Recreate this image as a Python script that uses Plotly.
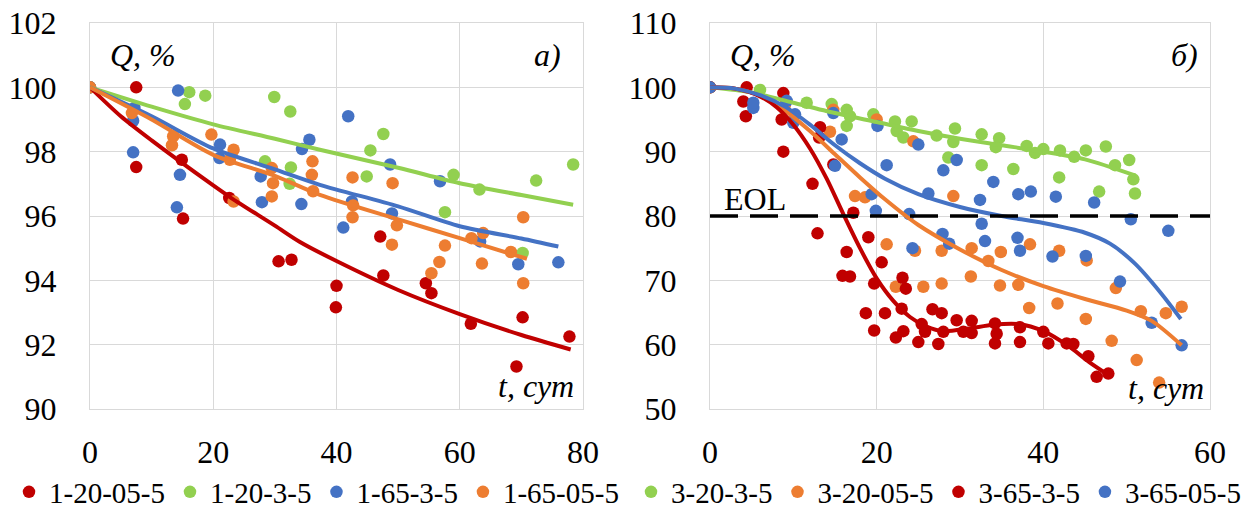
import plotly.graph_objects as go

# ---------------- data: left panel (a) ----------------
t_1_20_05_5 = [0, 7.5, 7.5, 14.9, 15.1, 22.6, 30.6, 32.7, 39.9, 40.0, 47.1, 47.6, 54.5, 55.4, 61.8, 69.2, 70.2, 77.8]
q_1_20_05_5 = [100, 100.0, 97.52, 97.75, 95.92, 96.56, 94.59, 94.64, 93.16, 93.83, 95.36, 94.15, 93.91, 93.6, 92.65, 91.32, 92.85, 92.25]

t_1_20_3_5 = [0, 15.4, 16.1, 18.7, 28.4, 29.9, 32.5, 32.6, 32.4, 44.9, 45.5, 47.6, 57.6, 59.0, 63.2, 70.2, 72.4, 78.4]
q_1_20_3_5 = [100, 99.48, 99.85, 99.74, 97.70, 99.70, 99.25, 97.51, 97.0, 97.23, 98.04, 98.55, 96.12, 97.28, 96.82, 94.85, 97.1, 97.6]

t_1_65_3_5 = [0, 7.0, 7.0, 7.2, 14.1, 14.3, 14.6, 21.0, 21.1, 27.7, 27.9, 34.3, 34.4, 35.6, 41.1, 41.9, 42.5, 48.7, 49.0, 56.8, 63.3, 69.5, 76.0]
q_1_65_3_5 = [100, 97.98, 98.96, 99.36, 96.27, 99.9, 97.28, 97.8, 98.22, 97.23, 96.43, 96.37, 98.08, 98.37, 95.64, 99.1, 96.45, 97.6, 96.08, 97.08, 95.21, 94.5, 94.56]

t_1_65_05_5 = [0, 6.8, 13.3, 13.5, 19.7, 22.7, 23.3, 23.3, 29.5, 29.7, 29.5, 36.0, 36.1, 36.2, 42.6, 42.6, 42.7, 49.0, 49.1, 49.8, 55.4, 56.7, 57.6, 61.9, 63.6, 63.8, 68.3, 70.3, 70.3]
q_1_65_05_5 = [100, 99.2, 98.2, 98.48, 98.53, 97.75, 98.06, 96.45, 97.49, 97.02, 96.61, 97.28, 97.7, 96.77, 97.2, 95.96, 96.33, 95.11, 97.02, 95.71, 94.22, 94.57, 95.08, 95.31, 94.52, 95.47, 94.88, 95.96, 93.91]

# trend lines
ft_1_20_05_5 = [0, 5, 10, 20, 23, 30, 34, 40, 50, 60, 70, 78]
fq_1_20_05_5 = [100, 99.1, 98.35, 96.95, 96.55, 95.7, 95.2, 94.6, 93.7, 92.95, 92.3, 91.85]
ft_1_20_3_5 = [0, 10, 20, 30, 37.3, 50, 60, 70, 78.4]
fq_1_20_3_5 = [100, 99.4, 98.85, 98.4, 98.06, 97.5, 97.02, 96.65, 96.35]
ft_1_65_3_5 = [0, 10, 20, 30, 37.3, 50, 60, 70, 76]
fq_1_65_3_5 = [100, 99.1, 98.1, 97.45, 96.97, 96.3, 95.68, 95.3, 95.05]
ft_1_65_05_5 = [0, 10, 20, 30, 37.3, 50.3, 60, 70.9]
fq_1_65_05_5 = [100, 99.0, 97.9, 97.25, 96.66, 95.88, 95.31, 94.67]

# ---------------- data: right panel (б) ----------------
t_3_20_3_5 = [0, 6.0, 11.6, 14.6, 16.4, 16.8, 16.4, 19.6, 22.2, 24.2, 22.4, 23.2, 27.2, 29.4, 29.2, 28.6, 32.6, 34.7, 34.3, 32.6, 36.4, 38.0, 39.0, 40.0, 42.0, 41.9, 43.7, 45.1, 46.7, 47.5, 48.6, 50.3, 50.8, 51.0]
q_3_20_3_5 = [100, 99.6, 97.6, 97.4, 96.5, 95.5, 94.0, 95.8, 94.7, 94.7, 93.2, 92.2, 92.5, 93.6, 91.5, 89.1, 92.7, 92.1, 90.7, 87.9, 87.3, 90.9, 89.8, 90.4, 90.2, 86.0, 89.2, 90.2, 83.8, 90.8, 87.9, 88.7, 85.7, 83.5]

t_3_20_05_5 = [0, 9.0, 14.4, 14.8, 17.4, 18.6, 20.0, 21.2, 22.3, 24.4, 24.6, 25.6, 27.8, 27.8, 29.2, 31.3, 31.4, 33.4, 34.8, 34.9, 37.0, 38.3, 38.4, 41.7, 41.9, 45.1, 45.2, 48.2, 48.7, 51.2, 51.7, 53.9, 54.7, 56.6]
q_3_20_05_5 = [100, 97.3, 93.1, 96.5, 83.1, 82.9, 95.0, 75.6, 69.0, 91.6, 74.6, 69.0, 74.6, 69.5, 83.1, 70.6, 75.0, 73.0, 69.2, 74.4, 69.3, 65.7, 75.6, 66.4, 74.6, 64.0, 73.1, 60.6, 68.8, 57.6, 65.2, 54.1, 64.9, 65.9]

t_3_65_3_5 = [0, 4.0, 4.3, 4.4, 8.6, 8.8, 8.8, 12.3, 12.9, 13.1, 13.2, 14.8, 15.9, 16.4, 16.8, 17.2, 18.7, 19.0, 19.7, 19.7, 20.6, 21.0, 22.3, 23.0, 23.1, 23.2, 23.5, 25.0, 25.4, 25.8, 26.7, 27.4, 27.8, 28.0, 29.6, 30.4, 31.4, 31.4, 34.2, 34.4, 34.2, 37.2, 37.2, 40.0, 40.6, 42.8, 43.6, 45.4, 46.4, 47.8]
q_3_65_3_5 = [100, 97.8, 95.5, 100.0, 95.0, 99.1, 90.0, 85.0, 77.3, 92.2, 93.8, 88.0, 70.7, 74.4, 70.6, 80.5, 64.9, 76.7, 69.5, 62.2, 72.8, 64.9, 61.1, 65.6, 70.4, 62.1, 68.7, 60.4, 63.2, 62.0, 65.5, 60.1, 64.9, 62.0, 63.8, 62.0, 63.7, 61.8, 63.3, 61.7, 60.2, 62.7, 60.4, 62.0, 60.2, 60.2, 60.1, 58.2, 55.0, 55.5]

t_3_65_05_5 = [0, 5.2, 5.2, 9.2, 10.0, 10.2, 14.8, 15.0, 15.8, 19.4, 19.9, 20.1, 21.2, 23.9, 24.3, 25.0, 26.2, 27.9, 28.0, 28.7, 29.6, 32.4, 32.6, 33.0, 34.0, 36.9, 37.0, 37.2, 38.5, 41.1, 41.5, 45.1, 46.1, 49.2, 50.5, 53.0, 55.0, 56.6]
q_3_65_05_5 = [100, 96.8, 97.6, 97.9, 94.5, 95.8, 96.0, 87.8, 91.9, 83.4, 80.8, 94.0, 87.9, 80.3, 75.0, 91.1, 83.5, 77.2, 87.1, 75.7, 88.7, 82.5, 78.8, 76.1, 85.3, 76.6, 83.4, 74.6, 83.8, 73.7, 83.0, 73.8, 82.1, 69.8, 79.5, 63.4, 77.7, 59.9]

ft_3_20_3_5 = [0, 5, 10, 15, 20, 25, 30, 35, 40, 45, 51]
fq_3_20_3_5 = [100, 99.2, 97.6, 96.0, 94.6, 93.2, 92.0, 91.0, 90.0, 88.8, 86.3]
ft_3_20_05_5 = [0, 3, 6, 9, 12, 15, 18, 21, 25, 30, 35, 40, 45, 50, 53, 56.6]
fq_3_20_05_5 = [100, 99.8, 98.7, 96.4, 93.2, 89.6, 86.0, 82.6, 78.6, 74.8, 71.6, 69.1, 67.1, 65.3, 63.7, 59.9]
ft_3_65_3_5 = [0, 3, 6, 8, 10, 12, 14, 16, 18, 20, 22, 24, 26, 28, 31, 34, 37, 40, 43, 45.5, 47.8]
fq_3_65_3_5 = [100, 99.8, 98.6, 96.9, 94.2, 90.5, 85.8, 80.3, 75.0, 70.3, 66.8, 64.3, 62.8, 62.1, 62.5, 63.1, 63.2, 62.1, 59.8, 57.3, 55.3]
ft_3_65_05_5 = [0, 3, 6, 9, 12, 15, 18, 21, 25, 30, 35, 40, 45, 48, 51, 54, 56.5]
fq_3_65_05_5 = [100, 99.8, 98.8, 97.0, 94.2, 91.0, 88.2, 85.8, 83.4, 81.4, 80.0, 78.9, 77.4, 75.7, 72.6, 68.2, 64.0]

EOL = 80

left_x_ticks = [0, 20, 40, 60, 80]
left_y_ticks = [90, 92, 94, 96, 98, 100, 102]
right_x_ticks = [0, 20, 40, 60]
right_y_ticks = [50, 60, 70, 80, 90, 100, 110]

RED, GREEN, BLUE, ORANGE = "#C00000", "#92D050", "#4472C4", "#ED7D31"
FONT = "Times New Roman, Liberation Serif, Tinos, DejaVu Serif, serif"
W, H = 1248, 508

left_series = [
    ("1-20-05-5", t_1_20_05_5, q_1_20_05_5, ft_1_20_05_5, fq_1_20_05_5, RED),
    ("1-20-3-5", t_1_20_3_5, q_1_20_3_5, ft_1_20_3_5, fq_1_20_3_5, GREEN),
    ("1-65-3-5", t_1_65_3_5, q_1_65_3_5, ft_1_65_3_5, fq_1_65_3_5, BLUE),
    ("1-65-05-5", t_1_65_05_5, q_1_65_05_5, ft_1_65_05_5, fq_1_65_05_5, ORANGE),
]
right_series = [
    ("3-20-3-5", t_3_20_3_5, q_3_20_3_5, ft_3_20_3_5, fq_3_20_3_5, GREEN),
    ("3-20-05-5", t_3_20_05_5, q_3_20_05_5, ft_3_20_05_5, fq_3_20_05_5, ORANGE),
    ("3-65-3-5", t_3_65_3_5, q_3_65_3_5, ft_3_65_3_5, fq_3_65_3_5, RED),
    ("3-65-05-5", t_3_65_05_5, q_3_65_05_5, ft_3_65_05_5, fq_3_65_05_5, BLUE),
]

fig = go.Figure()

for series, xa, ya, leg in [(left_series, "x", "y", "legend"), (right_series, "x2", "y2", "legend2")]:
    for name, t, q, ft, fq, col in series:
        fig.add_trace(go.Scatter(x=t, y=q, mode="markers", name=name, xaxis=xa, yaxis=ya,
                                 marker=dict(color=col, size=12.5), legend=leg, showlegend=True))
    for name, t, q, ft, fq, col in series:
        fig.add_trace(go.Scatter(x=ft, y=fq, mode="lines", xaxis=xa, yaxis=ya, showlegend=False,
                                 line=dict(color=col, width=4, shape="spline", smoothing=0.8),
                                 hoverinfo="skip"))


def px(x):
    return x / W


def py(y):
    return 1 - y / H


grid = "#d9d9d9"


def axis_common():
    return dict(showgrid=True, gridcolor=grid, gridwidth=1.3, showline=True, linecolor=grid,
                linewidth=1.3, mirror=True, zeroline=False, ticks="",
                tickfont=dict(family=FONT, size=32, color="#000000"), automargin=False)


fig.update_layout(
    width=W, height=H, margin=dict(l=0, r=0, t=0, b=0, autoexpand=False),
    paper_bgcolor="white", plot_bgcolor="white",
    font=dict(family=FONT),
    xaxis=dict(domain=[px(90), px(583)], range=[0, 80], tickvals=left_x_ticks, anchor="y",
               ticklabelstandoff=14, **axis_common()),
    yaxis=dict(domain=[py(409), py(23)], range=[90, 102], tickvals=left_y_ticks, anchor="x",
               ticklabelstandoff=26, **axis_common()),
    xaxis2=dict(domain=[px(710), px(1210)], range=[0, 60], tickvals=right_x_ticks, anchor="y2",
                ticklabelstandoff=14, **axis_common()),
    yaxis2=dict(domain=[py(409), py(23)], range=[50, 110], tickvals=right_y_ticks, anchor="x2",
                ticklabelstandoff=26, **axis_common()),
    legend=dict(orientation="h", x=px(9), xanchor="left", y=py(492), yanchor="middle",
                font=dict(family=FONT, size=29, color="#000000"), bgcolor="rgba(0,0,0,0)",
                itemsizing="trace"),
    legend2=dict(orientation="h", x=px(631), xanchor="left", y=py(492), yanchor="middle",
                 font=dict(family=FONT, size=29, color="#000000"), bgcolor="rgba(0,0,0,0)",
                 itemsizing="trace"),
    showlegend=True,
)

fig.add_shape(type="line", xref="x2", yref="y2", x0=0, x1=60, y0=EOL, y1=EOL,
              line=dict(color="black", width=3.5, dash="28px,12px"))

annots = [
    ("<i>Q, %</i>", 108, 55, "left"),
    ("<i>а)</i>", 563, 55, "right"),
    ("<i>t, сут</i>", 576, 386, "right"),
    ("<i>Q, %</i>", 728, 55, "left"),
    ("<i>б)</i>", 1200, 55, "right"),
    ("<i>t, сут</i>", 1206, 388, "right"),
    ("EOL", 722, 199, "left"),
]
for text, x, y, anc in annots:
    fig.add_annotation(text=text, x=px(x), y=py(y), xref="paper", yref="paper",
                       xanchor=anc, yanchor="middle", showarrow=False,
                       font=dict(family=FONT, size=32, color="#000000"))

fig.write_html("out.html")
